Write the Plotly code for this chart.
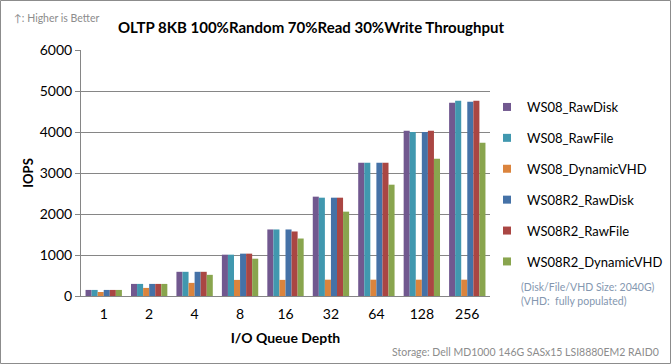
import plotly.graph_objects as go

categories = ["1", "2", "4", "8", "16", "32", "64", "128", "256"]
series_names = ["WS08_RawDisk", "WS08_RawFile", "WS08_DynamicVHD",
                "WS08R2_RawDisk", "WS08R2_RawFile", "WS08R2_DynamicVHD"]
ws08_rawdisk = [148, 295, 590, 1008, 1623, 2423, 3252, 4033, 4715]
ws08_rawfile = [148, 295, 590, 1008, 1623, 2398, 3252, 4000, 4764]
ws08_dynvhd = [98, 197, 320, 393, 393, 398, 398, 398, 398]
ws08r2_rawdisk = [148, 295, 590, 1033, 1623, 2398, 3252, 4000, 4740]
ws08r2_rawfile = [148, 295, 590, 1033, 1574, 2398, 3252, 4033, 4764]
ws08r2_dynvhd = [148, 295, 516, 910, 1402, 2057, 2715, 3350, 3740]
series_values = [ws08_rawdisk, ws08_rawfile, ws08_dynvhd,
                 ws08r2_rawdisk, ws08r2_rawfile, ws08r2_dynvhd]
colors = ["#71588F", "#4198AF", "#DB843D", "#4572A7", "#AA4643", "#89A54E"]
y_ticks = [0, 1000, 2000, 3000, 4000, 5000, 6000]

FONT = "Lato"

fig = go.Figure()
for name, vals, c in zip(series_names, series_values, colors):
    fig.add_trace(go.Bar(x=categories, y=vals, name=name, marker_color=c,
                         marker_line_width=0, showlegend=False))
# legend entries with small square keys
for name, c in zip(series_names, colors):
    fig.add_trace(go.Scatter(x=[None], y=[None], name=name, mode="markers",
                             marker=dict(symbol="square", size=8, color=c),
                             legendgroup=name, showlegend=True))

L, R, T, B = 81, 181, 50, 68
W, H = 671, 364
pw, ph = W - L - R, H - T - B

def px(x):
    return (x - L) / pw

def py(y):
    return (H - B - y) / ph

fig.update_layout(
    width=W, height=H,
    margin=dict(l=L, r=R, t=T, b=B, autoexpand=False),
    paper_bgcolor="white", plot_bgcolor="white",
    barmode="group", bargap=0.2, bargroupgap=0,
    font=dict(family=FONT, size=12, color="#000"),
    title=dict(text="<b>OLTP 8KB 100%Random 70%Read 30%Write Throughput</b>",
               x=px(311), xref="paper", xanchor="center",
               y=1 - 28 / H, yanchor="middle",
               font=dict(family=FONT, size=15, color="#000")),
    xaxis=dict(type="category", showgrid=False, showline=True,
               linecolor="#868686", linewidth=1, ticks="",
               ticklabelstandoff=5,
               tickfont=dict(size=14, family=FONT),
               title=dict(text="<b>I/O Queue Depth</b>", font=dict(size=14, family=FONT),
                          standoff=12)),
    yaxis=dict(range=[0, 6000], tickvals=y_ticks, showgrid=True,
               gridcolor="#868686", gridwidth=1, showline=True,
               linecolor="#868686", linewidth=1, ticks="outside",
               ticklen=5, tickcolor="#868686",
               tickfont=dict(size=14, family=FONT),
               zeroline=False,
               title=dict(text="<b>IOPS</b>", font=dict(size=13, family=FONT),
                          standoff=3)),
    legend=dict(x=px(487), y=py(92), xanchor="left", yanchor="top",
                font=dict(size=13, family=FONT), tracegroupgap=11,
                itemwidth=30, bgcolor="rgba(0,0,0,0)"),
    showlegend=True,
)

annotations = [
    dict(text="↑: Higher is Better", x=px(12), y=py(18), xanchor="left",
         yanchor="middle", font=dict(size=10.5, color="#8c8c8c", family=FONT)),
    dict(text="(Disk/File/VHD Size: 2040G)", x=px(519), y=py(287), xanchor="left",
         yanchor="middle", font=dict(size=10.5, color="#8497b0", family=FONT)),
    dict(text="(VHD:  fully populated)", x=px(519), y=py(301), xanchor="left",
         yanchor="middle", font=dict(size=10.5, color="#8497b0", family=FONT)),
    dict(text="Storage: Dell MD1000 146G SASx15 LSI8880EM2 RAID0", x=px(661),
         y=py(352), xanchor="right", yanchor="middle",
         font=dict(size=10.5, color="#8c8c8c", family=FONT)),
]
for a in annotations:
    a.update(xref="paper", yref="paper", showarrow=False)
fig.update_layout(annotations=annotations)

fig.add_shape(type="rect", xref="paper", yref="paper",
              x0=px(0.5), x1=px(670.5), y0=py(363.5), y1=py(0.5),
              line=dict(color="#8c8c8c", width=1), fillcolor="rgba(0,0,0,0)",
              layer="below")

fig.write_html("out.html", config={"displayModeBar": False},
               post_script="document.body.style.margin='0';")
